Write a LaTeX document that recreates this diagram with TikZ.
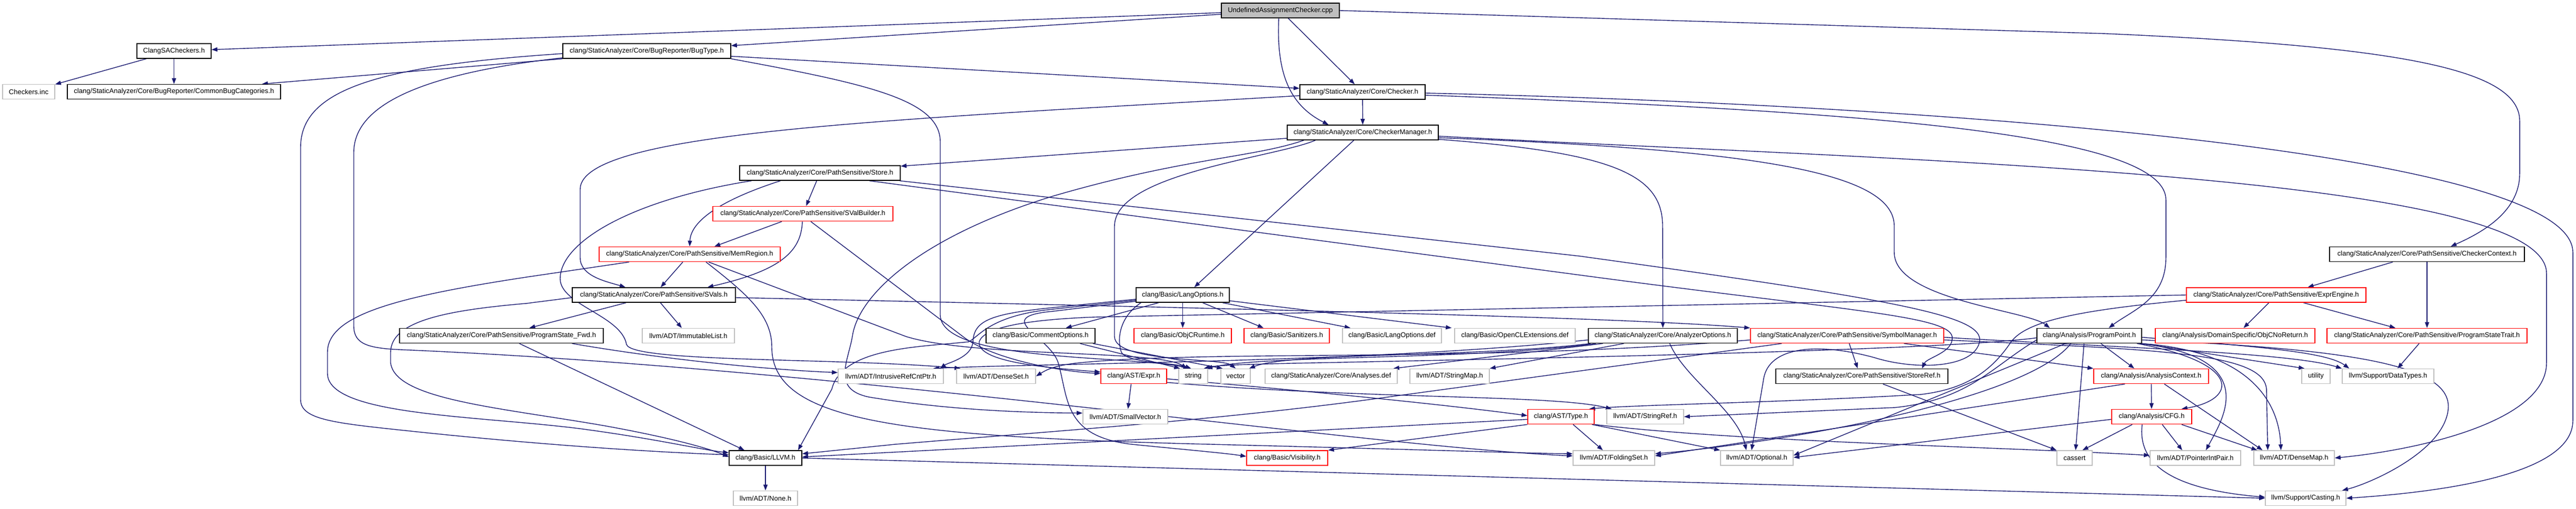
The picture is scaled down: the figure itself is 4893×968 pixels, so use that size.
\documentclass[tikz,border=0pt]{standalone}
\usepackage{fontspec}
\setmainfont{Liberation Sans}
\usetikzlibrary{arrows.meta,calc}
\definecolor{edgec}{HTML}{191970}
\definecolor{grayb}{HTML}{BFBFBF}
\definecolor{redb}{HTML}{FF0000}
\pgfdeclarelayer{bg}
\pgfsetlayers{bg,main}
\tikzset{
 box/.style={draw=black, line width=1.6pt, minimum height=28pt, inner xsep=3pt, inner ysep=0pt, font=\fontsize{13}{15}\selectfont, fill=white},
 redbox/.style={box, draw=redb},
 graybox/.style={box, draw=grayb},
 rootbox/.style={box, fill=grayb},
 e/.style={draw=edgec, line width=1.4pt, -{Triangle[length=11pt,width=8pt]}},
}
\begin{document}
\begin{tikzpicture}[x=1pt,y=-1pt]
\useasboundingbox (0,0) rectangle (4893,968);
% ---- nodes ----
\node[rootbox, minimum width=224] (root) at (2432,20) {UndefinedAssignmentChecker.cpp};
\node[box, minimum width=141] (clangsa) at (330.5,97) {ClangSACheckers.h};
\node[graybox, minimum width=99] (checkersinc) at (54.5,174.5) {Checkers.inc};
\node[box, minimum width=405] (commonbug) at (330.5,174.5) {clang/StaticAnalyzer/Core/BugReporter/CommonBugCategories.h};
\node[box, minimum width=319] (bugtype) at (1228.5,97) {clang/StaticAnalyzer/Core/BugReporter/BugType.h};
\node[box, minimum width=238] (checker) at (2588,175) {clang/StaticAnalyzer/Core/Checker.h};
\node[box, minimum width=287] (checkermgr) at (2588.5,252) {clang/StaticAnalyzer/Core/CheckerManager.h};
\node[box, minimum width=305] (store) at (1557.5,329) {clang/StaticAnalyzer/Core/PathSensitive/Store.h};
\node[redbox, minimum width=342] (svalbuilder) at (1525,406.5) {clang/StaticAnalyzer/Core/PathSensitive/SValBuilder.h};
\node[redbox, minimum width=344] (memregion) at (1310,483.5) {clang/StaticAnalyzer/Core/PathSensitive/MemRegion.h};
\node[box, minimum width=370] (checkerctx) at (4610,483.5) {clang/StaticAnalyzer/Core/PathSensitive/CheckerContext.h};
\node[box, minimum width=310] (svals) at (1242,561) {clang/StaticAnalyzer/Core/PathSensitive/SVals.h};
\node[box, minimum width=177] (langopts) at (2246.5,561) {clang/Basic/LangOptions.h};
\node[redbox, minimum width=341] (exprengine) at (4323.5,561) {clang/StaticAnalyzer/Core/PathSensitive/ExprEngine.h};
\node[box, minimum width=387] (psfwd) at (952.5,638.5) {clang/StaticAnalyzer/Core/PathSensitive/ProgramState\_Fwd.h};
\node[graybox, minimum width=175] (immlist) at (1307.5,638.5) {llvm/ADT/ImmutableList.h};
\node[box, minimum width=207] (commentopts) at (1976.5,638.5) {clang/Basic/CommentOptions.h};
\node[redbox, minimum width=185] (objcrt) at (2246.5,638.5) {clang/Basic/ObjCRuntime.h};
\node[redbox, minimum width=162] (sanit) at (2444,638.5) {clang/Basic/Sanitizers.h};
\node[graybox, minimum width=188] (langdef) at (2644,638.5) {clang/Basic/LangOptions.def};
\node[graybox, minimum width=229] (opencl) at (2877.5,638.5) {clang/Basic/OpenCLExtensions.def};
\node[box, minimum width=283] (anaopts) at (3158.5,638.5) {clang/StaticAnalyzer/Core/AnalyzerOptions.h};
\node[redbox, minimum width=367] (symmgr) at (3508.5,638.5) {clang/StaticAnalyzer/Core/PathSensitive/SymbolManager.h};
\node[box, minimum width=199] (progpt) at (3968.5,638.5) {clang/Analysis/ProgramPoint.h};
\node[redbox, minimum width=303] (objcnoret) at (4245.5,638.5) {clang/Analysis/DomainSpecific/ObjCNoReturn.h};
\node[redbox, minimum width=380] (pstrait) at (4610,638.5) {clang/StaticAnalyzer/Core/PathSensitive/ProgramStateTrait.h};
\node[graybox, minimum width=200] (intrusive) at (1692,715.5) {llvm/ADT/IntrusiveRefCntPtr.h};
\node[graybox, minimum width=150] (denseset) at (1892,715.5) {llvm/ADT/DenseSet.h};
\node[redbox, minimum width=125] (expr) at (2153.5,715.5) {clang/AST/Expr.h};
\node[graybox, minimum width=55] (string) at (2266.5,715.5) {string};
\node[graybox, minimum width=56] (vector) at (2347,715.5) {vector};
\node[graybox, minimum width=251] (analyses) at (2528.5,715.5) {clang/StaticAnalyzer/Core/Analyses.def};
\node[graybox, minimum width=151] (stringmap) at (2753.5,715.5) {llvm/ADT/StringMap.h};
\node[box, minimum width=327] (storeref) at (3536.5,715.5) {clang/StaticAnalyzer/Core/PathSensitive/StoreRef.h};
\node[redbox, minimum width=218] (anactx) at (4086,715.5) {clang/Analysis/AnalysisContext.h};
\node[graybox, minimum width=54] (utility) at (4399,715.5) {utility};
\node[graybox, minimum width=174] (datatypes) at (4536,715.5) {llvm/Support/DataTypes.h};
\node[graybox, minimum width=161] (smallvec) at (2137.5,792.5) {llvm/ADT/SmallVector.h};
\node[redbox, minimum width=126] (type) at (2965,792.5) {clang/AST/Type.h};
\node[graybox, minimum width=146] (stringref) at (3125,792.5) {llvm/ADT/StringRef.h};
\node[redbox, minimum width=152] (cfg) at (4087,792.5) {clang/Analysis/CFG.h};
\node[box, minimum width=138] (llvmh) at (1454,871) {clang/Basic/LLVM.h};
\node[redbox, minimum width=154] (visib) at (2445,871) {clang/Basic/Visibility.h};
\node[graybox, minimum width=155] (folding) at (3065.5,871) {llvm/ADT/FoldingSet.h};
\node[graybox, minimum width=138] (optional) at (3337,871) {llvm/ADT/Optional.h};
\node[graybox, minimum width=67] (cassert) at (3940.5,871) {cassert};
\node[graybox, minimum width=172] (ptrint) at (4170,871) {llvm/ADT/PointerIntPair.h};
\node[graybox, minimum width=153] (densemap) at (4357.5,871) {llvm/ADT/DenseMap.h};
\node[graybox, minimum width=122] (none) at (1454,947.5) {llvm/ADT/None.h};
\node[graybox, minimum width=153] (casting) at (4379.5,947.5) {llvm/Support/Casting.h};
% ---- edges ----
\begin{pgfonlayer}{bg}
% root
\draw[e] (root) -- (clangsa);
\draw[e] (root) -- (bugtype);
\draw[e] (root) -- (checker);
\draw[e] ($(root.south)+(-3,0)$) .. controls (2424,140) and (2450,200) .. ($(checkermgr.north)+(-65,0)$);
\draw[e] (root.east) -- (4000,64) .. controls (4550,88) and (4786,130) .. (4786,230) -- (4786,330) .. controls (4786,400) and (4720,440) .. ($(checkerctx.north)+(45,0)$);
% ClangSACheckers
\draw[e] (clangsa) -- (checkersinc);
\draw[e] (clangsa) -- (commonbug);
% BugType
\draw[e] (bugtype.south west) -- ($(commonbug.north east)+(-36,0)$);
\draw[e] ($(bugtype.west)+(0,5)$) .. controls (720,125) and (571,170) .. (571,280) -- (571,760) .. controls (571,800) and (640,805) .. (800,822) .. controls (1050,848) and (1250,860) .. ($(llvmh.west)+(0,-6)$);
\draw[e] ($(bugtype.west)+(0,13)$) .. controls (800,140) and (672,200) .. (672,290) -- (672,620) .. controls (672,655) and (700,662) .. (760,665) .. controls (1600,700) and (2600,850) .. ($(folding.west)+(0,-4)$);
\draw[e] (bugtype.south east) .. controls (1650,160) and (1786,190) .. (1786,270) -- (1786,600) .. controls (1790,690) and (2150,675) .. ($(string.north)+(-8,0)$);
\draw[e] ($(bugtype.east)+(0,10)$) -- ($(checker.west)+(0,-7)$);
% Checker
\draw[e] (checker) -- (checkermgr);
\draw[e] ($(checker.west)+(0,7)$) -- (2000,209) .. controls (1500,240) and (1102,270) .. (1102,360) -- (1102,490) .. controls (1102,525) and (1150,535) .. ($(svals.north)+(-54,0)$);
\draw[e] ($(checker.east)+(0,6)$) .. controls (3500,210) and (4114,250) .. (4114,380) -- (4114,490) .. controls (4114,570) and (4050,590) .. ($(progpt.north)+(37,0)$);
\draw[e] ($(checker.east)+(0,2)$) .. controls (3700,200) and (4887,290) .. (4887,480) -- (4887,800) .. controls (4887,900) and (4650,935) .. (casting.east);
% CheckerManager
\draw[e] ($(checkermgr.west)+(0,11)$) -- ($(store.east)+(0,-13)$);
\draw[e] ($(checkermgr.south)+(-112,0)$) .. controls (2380,300) and (2250,300) .. (2000,373) .. controls (1750,450) and (1630,560) .. (1619,640) .. controls (1610,690) and (1580,740) .. (1650,755) .. controls (1800,780) and (1950,785) .. ($(smallvec.west)+(0,-7)$);
\draw[e] ($(checkermgr.south)+(-90,0)$) .. controls (2420,300) and (2117,330) .. (2117,430) -- (2117,640) .. controls (2117,690) and (2320,680) .. (vector.north);
\draw[e] ($(checkermgr.south)+(-17,0)$) -- ($(langopts.north)+(22,0)$);
\draw[e] ($(checkermgr.east)+(0,7)$) .. controls (3600,305) and (4837,330) .. (4837,520) -- (4837,690) .. controls (4837,800) and (4600,855) .. (densemap.east);
\draw[e] ($(checkermgr.east)+(0,10)$) .. controls (3350,285) and (3598,330) .. (3598,430) -- (3598,480) .. controls (3598,570) and (3850,590) .. ($(progpt.north)+(-75,0)$);
\draw[e] ($(checkermgr.east)+(0,13)$) .. controls (3060,290) and (3158,330) .. (3158,430) -- (anaopts.north);
% Store
\draw[e] ($(store.south)+(-75,0)$) .. controls (1370,380) and (1312,420) .. (memregion.north);
\draw[e] (store) -- (svalbuilder);
\draw[e] ($(store.south)+(-130,0)$) .. controls (1200,380) and (1064,460) .. (1064,530) .. controls (1064,580) and (1180,600) .. (1190,655) .. controls (1200,690) and (1600,680) .. ($(denseset.north west)+(8,0)$);
\draw[e] ($(store.south)+(94,0)$) -- (3000,523) .. controls (3500,590) and (3700,600) .. (3708,640) .. controls (3712,670) and (3660,680) .. ($(storeref.north east)+(-50,0)$);
\draw[e] ($(store.south east)+(-2,0)$) -- (3000,487) .. controls (3600,570) and (3770,600) .. (3760,650) .. controls (3750,700) and (3640,705) .. (3560,680) .. controls (3450,650) and (3360,660) .. (3350,720) -- ($(optional.north)+(-10,0)$);
% SValBuilder
\draw[e] ($(svalbuilder.south)+(-40,0)$) -- ($(memregion.north)+(47,0)$);
\draw[e] ($(svalbuilder.south)+(-1,0)$) .. controls (1522,480) and (1480,515) .. ($(svals.north)+(102,0)$);
\draw[e] ($(svalbuilder.south)+(15,0)$) -- (1829,640) .. controls (1880,680) and (2000,705) .. ($(expr.west)+(0,-5)$);
% MemRegion
\draw[e] (memregion) -- (svals);
\draw[e] ($(memregion.south)+(-115,0)$) -- (1000,527) .. controls (750,565) and (622,600) .. (622,670) -- (622,710) .. controls (622,790) and (900,790) .. (1100,815) .. controls (1250,835) and (1330,855) .. ($(llvmh.west)+(0,-10)$);
\draw[e] ($(memregion.south)+(31,0)$) .. controls (1420,560) and (1466,600) .. (1466,660) .. controls (1466,800) and (1700,830) .. (2300,845) .. controls (2700,855) and (2900,862) .. ($(folding.west)+(0,-8)$);
\draw[e] ($(memregion.south)+(36,0)$) -- (1721,640) .. controls (1850,680) and (2200,665) .. ($(string.north)+(-12,0)$);
% SVals
\draw[e] ($(svals.south)+(-53,0)$) -- ($(psfwd.north)+(53,0)$);
\draw[e] (svals) -- (immlist);
\draw[e] ($(svals.east)+(0,5)$) .. controls (2500,590) and (3100,605) .. (symmgr.north west);
\draw[e] ($(svals.west)+(0,5)$) -- (1000,577) .. controls (850,590) and (742,610) .. (742,670) -- (742,690) .. controls (750,760) and (950,775) .. (1150,810) .. controls (1260,830) and (1340,850) .. ($(llvmh.west)+(0,-2)$);
% ProgramState_Fwd
\draw[e] ($(psfwd.south)+(34,0)$) -- ($(llvmh.north)+(-40,0)$);
\draw[e] ($(psfwd.south)+(134,0)$) .. controls (1300,690) and (1500,705) .. ($(intrusive.west)+(0,-7)$);
% LangOptions
\draw[e] ($(langopts.south)+(-46,0)$) -- ($(commentopts.north)+(48,0)$);
\draw[e] (langopts) -- (objcrt);
\draw[e] ($(langopts.south)+(38,0)$) -- ($(sanit.north)+(-44,0)$);
\draw[e] ($(langopts.south)+(76,0)$) -- ($(langdef.north)+(-79,0)$);
\draw[e] ($(langopts.east)+(0,11)$) -- ($(opencl.north west)+(-5,0)$);
\draw[e] ($(langopts.west)+(0,8)$) -- (2000,585) .. controls (1880,597) and (1850,610) .. (1848,650) .. controls (1846,680) and (1800,690) .. ($(intrusive.north east)+(-7,0)$);
\draw[e] ($(langopts.west)+(0,10)$) -- (2000,588) .. controls (1880,600) and (1860,640) .. (1840,650) .. controls (1750,660) and (1600,660) .. (1580,740) -- ($(llvmh.north east)+(-8,0)$);
\draw[e] ($(langopts.west)+(0,12)$) -- (2000,592) .. controls (1880,603) and (1995,640) .. (2010,690) .. controls (2030,760) and (2020,830) .. (2150,845) .. controls (2250,855) and (2330,862) .. ($(visib.west)+(0,-3)$);
\draw[e] ($(langopts.south west)+(10,0)$) .. controls (2130,600) and (2120,640) .. (2130,670) .. controls (2140,690) and (2230,690) .. ($(string.north)+(-4,0)$);
% CommentOptions
\draw[e] ($(commentopts.south)+(75,0)$) -- ($(string.north west)+(3,0)$);
\draw[e] ($(commentopts.south east)+(-5,0)$) -- ($(vector.north west)+(4,0)$);
% AnalyzerOptions
\draw[e] ($(anaopts.south)+(-114,0)$) -- ($(analyses.north east)+(-8,0)$);
\draw[e] ($(anaopts.south)+(-74,0)$) -- (stringmap.north east);
\draw[e] ($(anaopts.south)+(13,0)$) .. controls (3200,720) and (3300,780) .. ($(optional.north)+(-20,0)$);
\draw[e] ($(anaopts.south west)+(5,0)$) .. controls (2800,680) and (2450,670) .. ($(vector.north east)+(-3,0)$);
\draw[e] ($(anaopts.south west)+(15,0)$) .. controls (2800,685) and (2400,675) .. ($(string.north east)+(-3,0)$);
\draw[e] ($(anaopts.west)+(0,8)$) .. controls (2600,690) and (2000,690) .. ($(intrusive.north east)+(-20,0)$);
% SymbolManager
\draw[e] ($(symmgr.south)+(4,0)$) -- ($(storeref.north)+(-8,0)$);
\draw[e] ($(symmgr.south)+(108,0)$) -- (anactx.north west);
\draw[e] ($(symmgr.east)+(0,3)$) .. controls (4000,660) and (4350,670) .. (datatypes.north west);
\draw[e] ($(symmgr.east)+(0,8)$) .. controls (4100,665) and (4300,670) .. (4305,740) -- ($(densemap.north)+(-50,0)$);
\draw[e] ($(symmgr.west)+(0,8)$) .. controls (2800,690) and (2300,665) .. (2050,690) .. controls (2000,695) and (1985,705) .. (denseset.east);
\draw[e] ($(symmgr.south west)+(60,0)$) -- (2600,760) .. controls (2300,800) and (2000,820) .. (1700,845) -- ($(llvmh.east)+(0,-8)$);
% ProgramPoint
\draw[e] ($(progpt.south)+(22,0)$) -- ($(anactx.north)+(-32,0)$);
\draw[e] ($(progpt.south east)+(-10,0)$) .. controls (4260,690) and (4250,760) .. ($(cfg.north east)+(-20,0)$);
\draw[e] ($(progpt.south)+(-10,0)$) -- ($(cassert.north)+(2,0)$);
\draw[e] ($(progpt.south)+(-35,0)$) .. controls (3850,760) and (3400,840) .. ($(folding.east)+(0,-8)$);
\draw[e] ($(progpt.south)+(-45,0)$) -- ($(optional.east)+(0,-5)$);
\draw[e] ($(progpt.south east)+(-5,0)$) .. controls (4300,680) and (4220,800) .. ($(ptrint.north)+(20,0)$);
\draw[e] ($(progpt.south east)+(-2,0)$) .. controls (4310,670) and (4330,800) .. ($(densemap.north)+(-25,0)$);
\draw[e] ($(progpt.east)+(0,8)$) .. controls (4500,665) and (4660,700) .. (4650,780) .. controls (4640,860) and (4500,920) .. ($(casting.north east)+(-8,0)$);
\draw[e] (progpt.south east) -- ($(utility.north west)+(6,0)$);
\draw[e] ($(progpt.east)+(0,3)$) .. controls (4300,660) and (4420,670) .. ($(datatypes.north west)+(14,0)$);
\draw[e] ($(progpt.west)+(0,8)$) .. controls (3780,700) and (3740,760) .. (3600,775) -- (stringref.east);
\draw[e] ($(progpt.west)+(0,4)$) .. controls (3700,665) and (3000,680) .. (2500,690) .. controls (2350,693) and (2310,695) .. ($(string.north east)+(-8,0)$);
% AnalysisContext
\draw[e] (anactx) -- (cfg);
\draw[e] ($(anactx.south)+(25,0)$) -- ($(densemap.north)+(-60,0)$);
\draw[e] ($(anactx.south west)+(60,0)$) -- ($(folding.east)+(0,-4)$);
% CFG
\draw[e] ($(cfg.south west)+(40,0)$) -- ($(cassert.north)+(15,0)$);
\draw[e] ($(cfg.south)+(20,0)$) -- ($(ptrint.north)+(-25,0)$);
\draw[e] ($(cfg.south east)+(-20,0)$) -- ($(densemap.north)+(-70,0)$);
\draw[e] ($(cfg.south)+(-18,0)$) .. controls (4060,880) and (4120,930) .. ($(casting.west)+(0,-2)$);
\draw[e] ($(cfg.west)+(0,5)$) -- ($(optional.east)+(0,-1)$);
% Expr
\draw[e] ($(expr.south)+(-5,0)$) -- ($(smallvec.north)+(5,0)$);
\draw[e] ($(expr.east)+(0,5)$) .. controls (2500,745) and (2750,770) .. ($(type.west)+(0,-2)$);
\draw[e] ($(expr.south east)+(0,-3)$) .. controls (2600,760) and (2950,750) .. ($(stringref.north west)+(10,0)$);
% Type
\draw[e] ($(type.west)+(0,5)$) -- ($(llvmh.east)+(0,-2)$);
\draw[e] (type.south west) -- (visib.north east);
\draw[e] ($(type.south)+(23,0)$) -- ($(folding.north)+(-21,0)$);
\draw[e] ($(type.south east)+(-5,0)$) -- (optional.north west);
\draw[e] (type.south east) .. controls (3300,840) and (3800,850) .. ($(ptrint.west)+(0,-5)$);
% LLVM
\draw[e] (llvmh) -- (none);
\draw[e] (llvmh.east) -- (casting.west);
% StoreRef
\draw[e] ($(storeref.south)+(40,0)$) -- (cassert.north west);
% ProgramStateTrait
\draw[e] ($(pstrait.south)+(-15,0)$) -- ($(datatypes.north)+(18,0)$);
% CheckerContext
\draw[e] ($(checkerctx.south)+(-65,0)$) -- ($(exprengine.north)+(60,0)$);
\draw[e] (checkerctx) -- (pstrait);
% ExprEngine
\draw[e] ($(exprengine.south)+(-14,0)$) -- ($(objcnoret.north)+(16,0)$);
\draw[e] ($(exprengine.south)+(52,0)$) -- ($(pstrait.north)+(-60,0)$);
\draw[e] (exprengine.west) -- (2080,603) .. controls (2000,606) and (1870,615) .. (1860,650) .. controls (1855,690) and (2000,700) .. ($(expr.west)+(0,-8)$);
\draw[e] ($(exprengine.west)+(0,10)$) .. controls (3950,590) and (3850,610) .. (3820,650) .. controls (3780,710) and (3730,740) .. (3650,750) .. controls (3400,765) and (3100,770) .. ($(type.north east)+(-10,0)$);
\end{pgfonlayer}
\end{tikzpicture}
\end{document}
